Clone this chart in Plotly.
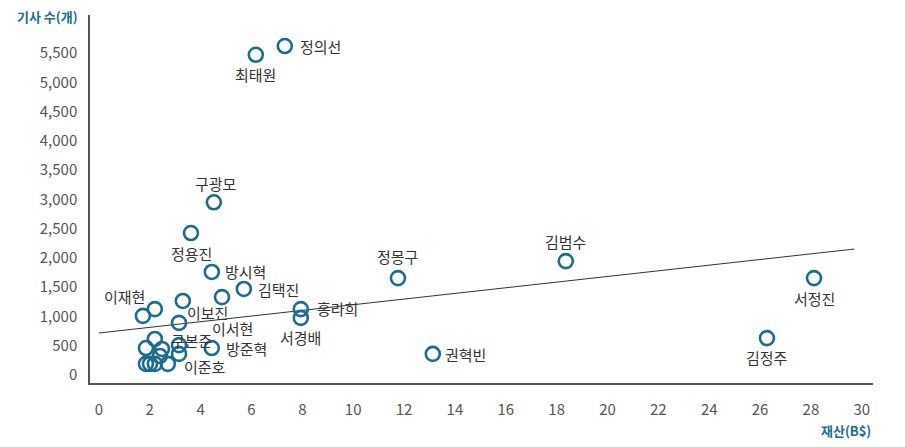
import plotly.graph_objects as go

# 재산(B$) vs 기사 수(개)
wealth = [7.31, 6.17, 4.52, 3.62, 4.44, 5.70, 4.84, 3.30, 2.20, 1.73,
          3.15, 7.94, 7.94, 11.76, 18.36, 28.12, 26.27, 13.13, 4.44,
          2.20, 1.85, 2.48, 2.40, 3.15, 3.15, 1.85, 2.01, 2.20, 2.71]
articles = [5620, 5470, 2950, 2425, 1760, 1470, 1330, 1265, 1125, 1010,
            890, 1125, 975, 1655, 1945, 1655, 630, 360, 460,
            615, 460, 445, 325, 510, 360, 190, 190, 190, 190]
names = ["정의선", "최태원", "구광모", "정용진", "방시혁", "김택진", "이서현", "이보진", "", "이재현",
         "", "홍라희", "서경배", "정몽구", "김범수", "서정진", "김정주", "권혁빈", "방준혁",
         "", "", "", "", "구본준", "", "", "", "", "이준호"]

# 추세선 (절편, 기울기)
trend_intercept = 717
trend_slope = 48.3
trend_x = [0, 29.7]

y_ticks = [0, 500, 1000, 1500, 2000, 2500, 3000, 3500, 4000, 4500, 5000, 5500]
x_ticks = [0, 2, 4, 6, 8, 10, 12, 14, 16, 18, 20, 22, 24, 26, 28, 30]

# 라벨 위치 (px 이동)
label_shift = {
    "정의선": (36, 0), "최태원": (0, -20), "구광모": (2, 19), "정용진": (1, -20),
    "방시혁": (34, 0), "김택진": (35, -1), "이서현": (11, -31), "이보진": (25, -12),
    "이재현": (-18, 19), "홍라희": (37, 1), "서경배": (0, -20), "정몽구": (0, 22),
    "김범수": (0, 20), "서정진": (0, -20), "김정주": (0, -19), "권혁빈": (33, -1),
    "방준혁": (35, 0), "구본준": (13, 5), "이준호": (37, -3),
}

BLUE = "#1d6c8c"
FONT = "Noto Sans CJK KR"

fig = go.Figure()

fig.add_trace(go.Scatter(
    x=trend_x,
    y=[trend_intercept + trend_slope * v for v in trend_x],
    mode="lines",
    line=dict(color="#333333", width=1),
    hoverinfo="skip",
))

fig.add_trace(go.Scatter(
    x=wealth, y=articles, mode="markers",
    marker=dict(symbol="circle-open", size=14, color=BLUE, line=dict(width=2.6)),
    text=names,
))

for xv, yv, nm in zip(wealth, articles, names):
    if not nm:
        continue
    dx, dy = label_shift[nm]
    fig.add_annotation(x=xv, y=yv, text=nm, showarrow=False, xshift=dx, yshift=dy,
                       font=dict(family=FONT, size=15, color="#333333"))

fig.add_annotation(xref="paper", yref="paper", x=0, y=0.995, xshift=-10,
                   xanchor="right", yanchor="middle", text="<b>기사 수(개)</b>",
                   showarrow=False, font=dict(family=FONT, size=13, color=BLUE))
fig.add_annotation(xref="paper", yref="paper", x=1, y=-0.128,
                   xanchor="right", yanchor="middle", text="<b>재산(B$)</b>",
                   showarrow=False, font=dict(family=FONT, size=13, color=BLUE))

# 페이지 기본 여백(8px)을 감안한 크기
fig.update_layout(
    width=897, height=439,
    margin=dict(l=82, r=32, t=7, b=64),
    plot_bgcolor="white", paper_bgcolor="white",
    showlegend=False,
    font=dict(family=FONT, size=15, color="#555555"),
)
fig.update_xaxes(range=[-0.35, 30.44], tickvals=x_ticks, showgrid=False, zeroline=False,
                 showline=True, linecolor="#555555", linewidth=1.5, ticks="",
                 ticklabelstandoff=12)
fig.update_yaxes(range=[-137, 6150], tickvals=y_ticks, tickformat=",", showgrid=False,
                 zeroline=False, showline=True, linecolor="#555555", linewidth=1.5,
                 ticks="", ticklabelstandoff=8)

fig.write_html("out.html")
